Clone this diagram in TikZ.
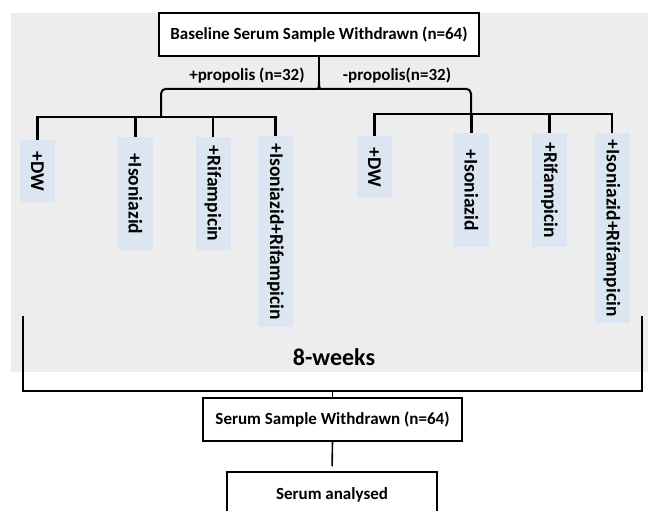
\documentclass[tikz,border=0pt]{standalone}
\usepackage{fontspec}
\setmainfont{Carlito}
\usetikzlibrary{shapes,arrows,positioning,fit,calc}

\definecolor{bggray}{HTML}{EDEDED}
\definecolor{tagblue}{HTML}{DCE6F2}

\begin{document}
\begin{tikzpicture}[x=1pt,y=-1pt]
        % Define styles
        \tikzstyle{box} = [rectangle, draw, line width=1.5pt, fill=white, inner sep=0pt,
            font=\bfseries\fontsize{17}{20}\selectfont, minimum height=43pt]
        \tikzstyle{tag} = [rectangle, fill=tagblue, rotate=-90, anchor=west, inner sep=0pt,
            font=\bfseries\fontsize{19.5}{22}\selectfont, minimum height=35pt]
        \tikzstyle{grouptext} = [font=\bfseries\fontsize{17}{20}\selectfont]
        \tikzstyle{bar} = [line width=2.6pt]
        \tikzstyle{brace} = [line width=2pt]
        \tikzstyle{link} = [line width=1.6pt]

        \useasboundingbox (0,0) rectangle (648,511);
        \fill [bggray] (11,13) rectangle (648,372);

        % Nodes
        \node [box, minimum width=320pt] (base) at (319,34.5) {Baseline Serum Sample Withdrawn (n=64)};
        \node [grouptext] (plus) at (247,76) {+propolis (n=32)};
        \node [grouptext] (minus) at (397,76) {-propolis(n=32)};

        \node [tag, minimum width=62pt] (a1) at (37.5,140) {+DW};
        \node [tag, minimum width=113pt] (a2) at (135.5,137) {+Isoniazid};
        \node [tag, minimum width=113pt] (a3) at (213,137) {+Rifampicin};
        \node [tag, minimum width=191pt] (a4) at (275.5,136) {+Isoniazid+Rifampicin};

        \node [tag, minimum width=62pt] (b1) at (374.5,136) {+DW};
        \node [tag, minimum width=114pt] (b2) at (471.5,133) {+Isoniazid};
        \node [tag, minimum width=114pt] (b3) at (549.5,133) {+Rifampicin};
        \node [tag, minimum width=190pt] (b4) at (612,133) {+Isoniazid+Rifampicin};

        \node [font=\bfseries\fontsize{24}{28}\selectfont] (weeks) at (334,357) {8-weeks};

        \node [box, minimum width=259pt] (serum) at (332.5,419.5) {Serum Sample Withdrawn (n=64)};
        \node [box, minimum width=210pt, minimum height=46pt] (analysed) at (332,495) {Serum analysed};

        % Brace
        \coordinate (cusp) at ($(base.south)+(0,25)$);
        \coordinate (lhub) at (161,117);
        \coordinate (rhub) at (471,114);
        \draw [brace] (base.south) -- (cusp);
        \draw [brace, rounded corners=5pt] (cusp) .. controls ($(cusp)+(0,6)$) and ($(cusp)+(-1,7)$)
            .. ($(cusp)+(-6,7)$) -| (lhub);
        \draw [brace, rounded corners=5pt] (cusp) .. controls ($(cusp)+(0,6)$) and ($(cusp)+(1,7)$)
            .. ($(cusp)+(6,7)$) -| (rhub);

        % Bars
        \draw [bar] (a1.west) |- (lhub) -| (a4.west);
        \draw [bar] (a2.west) -- (a2.west |- lhub);
        \draw [bar] (a3.west) -- (a3.west |- lhub);
        \draw [bar] (b1.west) |- (rhub) -| (b4.west);
        \draw [bar] (b2.west) -- (b2.west |- rhub);
        \draw [bar] (b3.west) -- (b3.west |- rhub);

        % Bottom bracket
        \coordinate (lend) at (23,316);
        \coordinate (rend) at (642,316);
        \coordinate (hub) at ($(serum.north)+(0,-6)$);
        \draw [link] (lend) |- (hub) -| (rend);
        \draw [link] (hub) -- (serum.north);
        \draw [link, shorten >=5pt] (serum.south) -- (analysed.north);
    \end{tikzpicture}
\end{document}
